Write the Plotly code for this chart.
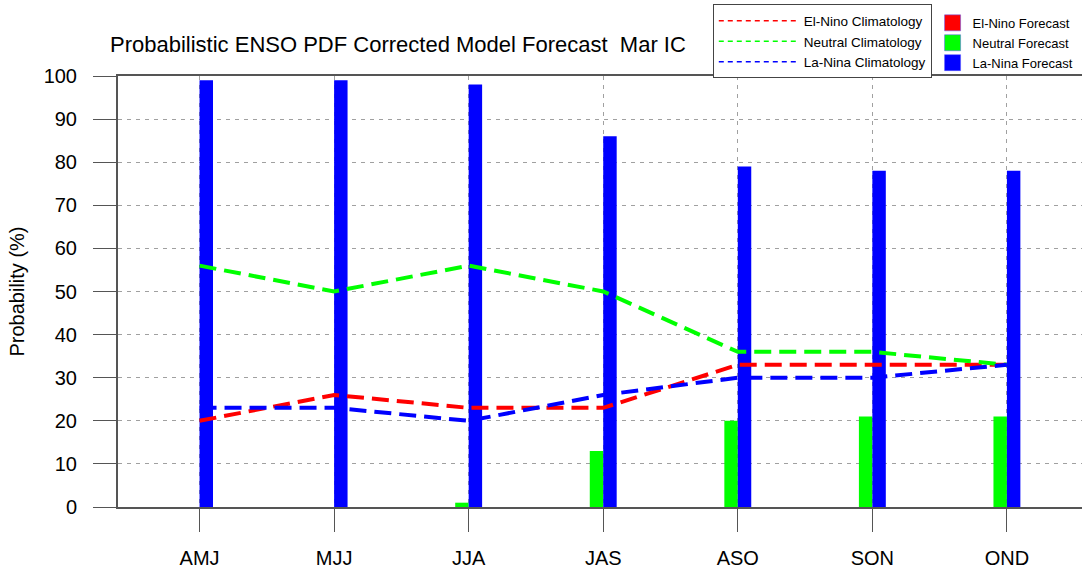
import plotly.graph_objects as go

# Forecast seasons (3-month running means)
seasons = ["AMJ", "MJJ", "JJA", "JAS", "ASO", "SON", "OND"]

# Forecast probabilities (%)
elnino_fcst = [0, 0, 0, 0, 0, 0, 0]
neutral_fcst = [0, 0, 1, 13, 20, 21, 21]
lanina_fcst = [99, 99, 98, 86, 79, 78, 78]

# Climatological probabilities (%)
elnino_clim = [20, 26, 23, 23, 33, 33, 33]
neutral_clim = [56, 50, 56, 50, 36, 36, 33]
lanina_clim = [23, 23, 20, 26, 30, 30, 33]

y_ticks = list(range(0, 101, 10))

RED = "#ff0000"
GREEN = "#00ff00"
BLUE = "#0000ff"
AXIS = "#555555"
GRID = "#a0a0a0"
FONT = "Liberation Sans, Arial, Helvetica, sans-serif"

fig = go.Figure()

# Forecast bars: El-Nino left, Neutral just left of the tick, La-Nina right of it
bar_w = 0.1
fcst = [
    ("El-Nino Forecast", elnino_fcst, RED, -2 * bar_w),
    ("Neutral Forecast", neutral_fcst, GREEN, -bar_w),
    ("La-Nina Forecast", lanina_fcst, BLUE, 0.0),
]
for name, vals, col, off in fcst:
    fig.add_trace(go.Bar(
        x=seasons, y=vals, name=name, width=bar_w, offset=off,
        marker=dict(color=col, line=dict(width=0)),
        showlegend=False,
    ))

# Climatology curves (drawn on top of the bars)
clim = [
    ("El-Nino Climatology", elnino_clim, RED),
    ("Neutral Climatology", neutral_clim, GREEN),
    ("La-Nina Climatology", lanina_clim, BLUE),
]
for name, vals, col in clim:
    fig.add_trace(go.Scatter(
        x=seasons, y=vals, mode="lines", name=name, showlegend=False,
        line=dict(color=col, width=4, dash="17px,8px"),
    ))

# Legend keys: thin dashed lines for climatology, filled squares for forecasts
for name, _, col in clim:
    fig.add_trace(go.Scatter(
        x=[None], y=[None], mode="lines", name=name,
        line=dict(color=col, width=1.5, dash="5px,4px"),
        legend="legend",
    ))
for name, _, col, _ in fcst:
    fig.add_trace(go.Scatter(
        x=[None], y=[None], mode="markers", name=name,
        marker=dict(color=col, symbol="square", size=16,
                    line=dict(color="#5555ff", width=0.5)),
        legend="legend2",
    ))

fig.update_layout(
    width=1082, height=570,
    margin=dict(l=118, r=0, t=76, b=63, autoexpand=False),
    paper_bgcolor="white", plot_bgcolor="white",
    font=dict(family=FONT, color="black"),
    barmode="overlay",
    showlegend=True,
    legend=dict(
        x=0.617, y=1.166, xanchor="left", yanchor="top",
        bgcolor="white", bordercolor="#444444", borderwidth=1,
        font=dict(size=13.5, family=FONT), itemwidth=80,
        tracegroupgap=0,
    ),
    legend2=dict(
        x=0.845, y=1.158, xanchor="left", yanchor="top",
        bgcolor="rgba(0,0,0,0)", borderwidth=0,
        font=dict(size=13, family=FONT), itemwidth=30,
        tracegroupgap=0,
    ),
    annotations=[dict(
        text="Probabilistic ENSO PDF Corrected Model Forecast  Mar IC",
        x=0.29, y=1.072, xref="paper", yref="paper",
        xanchor="center", yanchor="middle", showarrow=False,
        font=dict(size=22, family=FONT, color="black"),
    )],
    xaxis=dict(
        type="category", range=[-0.606, 6.558],
        showline=True, linecolor=AXIS, linewidth=2, mirror=True,
        ticks="outside", ticklen=23, tickcolor=AXIS, tickwidth=1,
        showgrid=True, gridcolor=GRID, gridwidth=1, griddash="4px,5px",
        tickfont=dict(size=20, family=FONT), ticklabelstandoff=9,
        zeroline=False,
    ),
    yaxis=dict(
        range=[0, 100], tickvals=y_ticks,
        showline=True, linecolor=AXIS, linewidth=2,
        ticks="outside", ticklen=23, tickcolor=AXIS, tickwidth=1,
        showgrid=True, gridcolor=GRID, gridwidth=1, griddash="4px,5px",
        tickfont=dict(size=20, family=FONT), ticklabelstandoff=12,
        title=dict(text="Probability (%)", font=dict(size=20, family=FONT), standoff=14),
        zeroline=False,
    ),
    yaxis2=dict(
        range=[0, 100], tickvals=y_ticks, overlaying="y", anchor="x", side="left",
        ticks="inside", ticklen=7, tickcolor=AXIS, tickwidth=1,
        showticklabels=False, showgrid=False, showline=False, zeroline=False,
    ),
)

fig.write_html("out.html")
